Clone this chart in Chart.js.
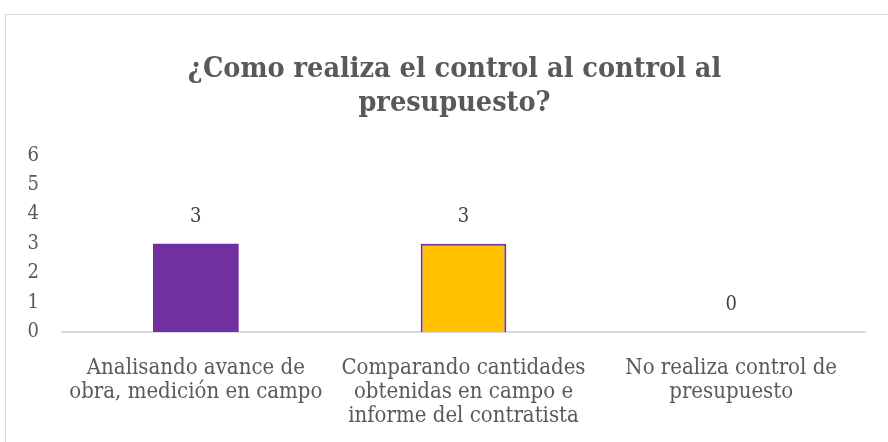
<!DOCTYPE html>
<html>
<head>
<meta charset="utf-8">
<script src="https://cdn.jsdelivr.net/npm/chart.js@4"></script>
<style>
  html, body { margin: 0; padding: 0; background: #fff; }
  #frame { position: absolute; left: 5px; top: 14px; width: 900px; height: 440px; border: 1px solid #d9d9d9; }
  #wrap { position: absolute; left: 0; top: 0; width: 888px; height: 442px; }
</style>
</head>
<body>
<div id="frame"></div>
<div id="wrap"><canvas id="budgetChart"></canvas></div>
<script>
const categories = [
    ['Analisando avance de', 'obra, medición en campo'],
    ['Comparando cantidades', 'obtenidas en campo e', 'informe del contratista'],
    ['No realiza control de', 'presupuesto']
];
const counts = [3, 3, 0];
const barColors = ['#7030A0', '#FFC000', '#A5A5A5'];
const yTicks = [0, 1, 2, 3, 4, 5, 6];

const FONT = "'DejaVu Serif Condensed', 'DejaVu Serif', serif";
const TEXT = '#595959';

// numbers above the bars
const valueLabels = {
    id: 'valueLabels',
    afterDatasetsDraw(chart) {
        const ctx = chart.ctx;
        const meta = chart.getDatasetMeta(0);
        ctx.save();
        ctx.font = '20px ' + FONT;
        ctx.fillStyle = '#404040';
        ctx.textAlign = 'center';
        ctx.textBaseline = 'middle';
        meta.data.forEach((bar, i) => {
            ctx.fillText(String(counts[i]), bar.x, bar.y - 27);
        });
        ctx.restore();
    }
};

// title is centred on the whole frame, not only on the plot
const centreTitle = {
    id: 'centreTitle',
    afterLayout(chart) {
        if (chart.titleBlock) {
            chart.titleBlock.left += 22;
            chart.titleBlock.right += 22;
        }
    }
};

const budgetCanvas = document.getElementById('budgetChart');
if (budgetCanvas) {
    new Chart(budgetCanvas, {
        type: 'bar',
        data: {
            labels: categories,
            datasets: [{
                data: counts,
                backgroundColor: barColors,
                borderColor: ['#7030A0', '#7030A0', '#7030A0'],
                borderWidth: [0, 2, 0],
                categoryPercentage: 1,
                barPercentage: 0.32
            }]
        },
        options: {
            responsive: true,
            maintainAspectRatio: false,
            animation: false,
            layout: { padding: { left: 0, right: 23, top: 0, bottom: 0 } },
            plugins: {
                legend: { display: false },
                tooltip: { enabled: false },
                title: {
                    display: true,
                    text: ['¿Como realiza el control al control al', 'presupuesto?'],
                    color: TEXT,
                    font: { family: FONT, size: 28.5, weight: 'bold', lineHeight: 1.2 },
                    padding: { top: 52, bottom: 35 }
                }
            },
            scales: {
                x: {
                    afterFit(scale) { scale.height = 110; },
                    grid: { display: false, drawTicks: false },
                    border: { display: true, color: '#d9d9d9', width: 2 },
                    ticks: {
                        color: TEXT,
                        font: { family: FONT, size: 22, lineHeight: 1.09 },
                        padding: 24,
                        maxRotation: 0,
                        autoSkip: false
                    }
                },
                y: {
                    min: 0,
                    max: 6,
                    afterBuildTicks(scale) { scale.ticks = yTicks.map(v => ({ value: v })); },
                    afterFit(scale) { scale.width = 62; },
                    grid: { display: false, drawTicks: false },
                    border: { display: false },
                    ticks: {
                        color: TEXT,
                        font: { family: FONT, size: 20 },
                        padding: 23,
                        autoSkip: false
                    }
                }
            }
        },
        plugins: [valueLabels, centreTitle]
    });
}
</script>
</body>
</html>
